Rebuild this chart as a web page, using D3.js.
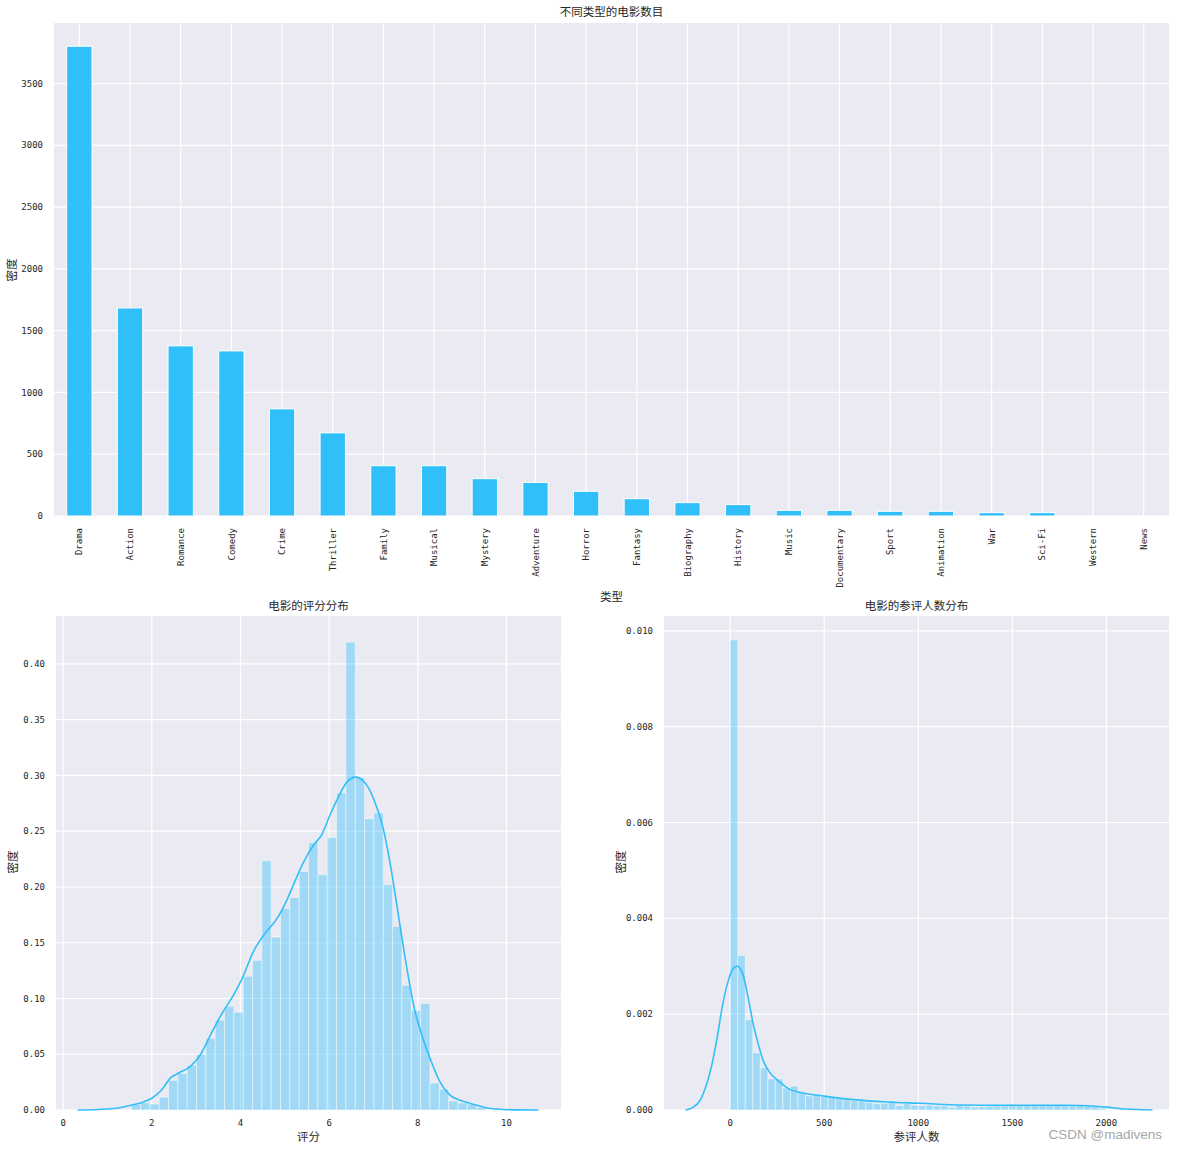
<!DOCTYPE html>
<html><head><meta charset="utf-8">
<script src="https://cdn.jsdelivr.net/npm/d3@7/dist/d3.min.js"></script>
<style>
body{margin:0;background:#fff;}
svg text{fill:#262626;}
</style></head>
<body><svg id="c" width="1177" height="1149"></svg>
<script>
// ---------- data ----------
const genres = ["Drama","Action","Romance","Comedy","Crime","Thriller","Family","Musical","Mystery","Adventure","Horror","Fantasy","Biography","History","Music","Documentary","Sport","Animation","War","Sci-Fi","Western","News"];
const genreCounts = [3802,1684,1377,1336,867,673,407,407,302,272,200,140,108,92,46,46,38,38,27,27,2,1];
const genreTicks = [0,500,1000,1500,2000,2500,3000,3500];

const ratingBinStart = 1.535, ratingBinWidth = 0.2106;
const ratingDensity = [0.005,0.0065,0.0054,0.0116,0.0266,0.0328,0.0402,0.0498,0.0644,0.0805,
  0.093,0.0877,0.1199,0.1342,0.2236,0.155,0.1807,0.1905,0.214,0.2397,
  0.211,0.2442,0.2844,0.4195,0.2979,0.2612,0.2665,0.2021,0.1646,0.1118,
  0.0894,0.0957,0.0242,0.0188,0.0081,0.0063,0.0054,0.0024];
const ratingKdeX = [0.33,0.8,1.2,1.5,1.8,2.0,2.2,2.43,2.62,2.88,3.1,3.33,3.59,3.85,4.04,4.3,4.53,4.83,5.05,5.25,5.43,5.65,5.83,6.02,6.2,6.4,6.6,6.85,7.03,7.22,7.37,7.55,7.74,7.92,8.11,8.3,8.49,8.71,9.01,9.31,9.54,9.91,10.3,10.72];
const ratingKdeY = [0,0.0005,0.0015,0.004,0.007,0.0105,0.017,0.029,0.0334,0.0394,0.0498,0.0677,0.087,0.1035,0.118,0.1428,0.157,0.172,0.1885,0.207,0.2227,0.2377,0.2466,0.2645,0.28,0.294,0.2985,0.2913,0.2764,0.2525,0.2227,0.178,0.1303,0.0915,0.0647,0.0438,0.026,0.014,0.008,0.0045,0.002,0.0005,0.0001,0];
const ratingXTicks = [0,2,4,6,8,10];
const ratingYTicks = [0,0.05,0.10,0.15,0.20,0.25,0.30,0.35,0.40];

const votesBinStart = 0, votesBinWidth = 40;
const votesDensity = [0.00981,0.003225,0.001885,0.001194,0.00088,0.00065,0.00065,0.00046,0.0005,0.000356,
  0.000293,0.00033,0.00028,0.000265,0.000237,0.000216,0.000195,0.000188,0.00016,0.000132,
  0.00014,0.000188,0.00009,0.000132,0.0001,0.00009,0.0001,0.000084,0.000084,0.000056,
  0.0001,0.00008,0.00006,0.00007,0.00008,0.00008,0.00009,0.00012,0.0001,0.0001,
  0.0001,0.0001,0.0001,0.0001,0.0001,0.00009,0.00009,0.00008,0.00007,0.00004];
const votesKdeX = [-238,-200,-160,-131,-100,-70,-40,-10,15,38,69,95,122,149,175,211,256,318,408,499,657,836,1014,1228,1400,1600,1800,1900,2000,2100,2245];
const votesKdeY = [0,0.00005,0.0002,0.00047,0.0009,0.0015,0.0022,0.0027,0.00295,0.0030,0.00281,0.00235,0.0018,0.00138,0.00103,0.00078,0.00061,0.00043,0.00034,0.00029,0.000216,0.000168,0.00014,0.000105,0.0001,0.0001,0.0001,0.00009,0.00006,0.00002,0];
const votesXTicks = [0,500,1000,1500,2000];
const votesYTicks = [0,0.002,0.004,0.006,0.008,0.010];

// ---------- style ----------
const BLUE = "#31bffa", BG = "#eaeaf2";
const TICK_FONT = "'DejaVu Sans Mono','Noto Sans CJK SC',monospace";
const CJK = "'Noto Sans CJK SC','Noto Sans',sans-serif";
const svg = d3.select("#c");

function frame(x0,x1,y0,y1){
  svg.append("rect").attr("x",x0).attr("y",y0).attr("width",x1-x0).attr("height",y1-y0).attr("fill",BG);
}
function yGrid(g,y,ticks,x0,x1,fmt){
  ticks.forEach(t=>{
    g.append("line").attr("x1",x0).attr("x2",x1).attr("y1",y(t)).attr("y2",y(t)).attr("stroke","#fff").attr("stroke-width",1.2);
    g.append("text").attr("x",x0-11).attr("y",y(t)).attr("dy","0.35em").attr("text-anchor","end")
      .style("font-family",TICK_FONT).style("font-size","9px").text(fmt(t));
  });
}
function xGrid(g,x,ticks,y0,y1,fmt){
  ticks.forEach(t=>{
    g.append("line").attr("y1",y0).attr("y2",y1).attr("x1",x(t)).attr("x2",x(t)).attr("stroke","#fff").attr("stroke-width",1.2);
    g.append("text").attr("x",x(t)).attr("y",y1+13).attr("dy","0.35em").attr("text-anchor","middle")
      .style("font-family",TICK_FONT).style("font-size","9px").text(fmt(t));
  });
}
function label(x,y,txt,rot){
  const t = svg.append("text").attr("text-anchor","middle").attr("dy","0.35em")
    .style("font-family",CJK).style("font-size","11.5px").text(txt);
  if(rot) t.attr("transform",`translate(${x},${y}) rotate(-90)`); else t.attr("x",x).attr("y",y);
}

// ---------- top: bar chart ----------
{
  const L=54,R=1169,T=23,B=516;
  frame(L,R,T,B);
  const x = d3.scaleBand().domain(genres).range([L,R]).paddingInner(0.5).paddingOuter(0.25);
  const y = d3.scaleLinear().domain([0,3990]).range([B,T]);
  const g = svg.append("g");
  yGrid(g,y,genreTicks,L,R,d3.format("d"));
  genres.forEach(c=>{
    const cx = x(c)+x.bandwidth()/2;
    g.append("line").attr("x1",cx).attr("x2",cx).attr("y1",T).attr("y2",B).attr("stroke","#fff").attr("stroke-width",1.2);
    g.append("text").attr("transform",`translate(${cx},${B+12}) rotate(-90)`).attr("text-anchor","end").attr("dy","0.35em")
      .style("font-family",TICK_FONT).style("font-size","9px").text(c);
  });
  g.selectAll("rect.bar").data(genres).join("rect").attr("class","bar")
    .attr("x",d=>x(d)).attr("width",x.bandwidth())
    .attr("y",(d,i)=>y(genreCounts[i])).attr("height",(d,i)=>B-y(genreCounts[i]))
    .attr("fill",BLUE).attr("stroke","#fff").attr("stroke-width",1);
  label((L+R)/2,12,"不同类型的电影数目");
  label(12,270,"密度",true);
  label((L+R)/2,597,"类型");
}

// ---------- histogram + kde helper ----------
function distPlot(L,R,T,B,xd,yd,start,width,dens,kx,ky,xt,yt,xf,yf,title,xl){
  frame(L,R,T,B);
  const x = d3.scaleLinear().domain(xd).range([L,R]);
  const y = d3.scaleLinear().domain(yd).range([B,T]);
  const g = svg.append("g");
  yGrid(g,y,yt,L,R,yf);
  xGrid(g,x,xt,T,B,xf);
  g.selectAll("rect.h").data(dens).join("rect").attr("class","h")
    .attr("x",(d,i)=>x(start+i*width)).attr("width",(d,i)=>x(start+(i+1)*width)-x(start+i*width))
    .attr("y",d=>y(d)).attr("height",d=>B-y(d))
    .attr("fill",BLUE).attr("fill-opacity",0.4).attr("stroke","#fff").attr("stroke-opacity",0.45).attr("stroke-width",1);
  const line = d3.line().x((d,i)=>x(kx[i])).y(d=>y(d)).curve(d3.curveMonotoneX);
  g.append("path").attr("d",line(ky)).attr("fill","none").attr("stroke",BLUE).attr("stroke-width",1.6);
  label((L+R)/2,606,title);
  label((L+R)/2,1137,xl);
  label(L-43,862,"密度",true);
}
distPlot(56,561,616,1110,[-0.16,11.23],[0,0.4430],ratingBinStart,ratingBinWidth,ratingDensity,ratingKdeX,ratingKdeY,
  ratingXTicks,ratingYTicks,d3.format("d"),d3.format(".2f"),"电影的评分分布","评分");
distPlot(664,1169,616,1110,[-352,2333],[0,0.01031],votesBinStart,votesBinWidth,votesDensity,votesKdeX,votesKdeY,
  votesXTicks,votesYTicks,d3.format("d"),d3.format(".3f"),"电影的参评人数分布","参评人数");

svg.append("text").attr("x",1162).attr("y",1134).attr("dy","0.35em").attr("text-anchor","end")
  .style("font-family","'Liberation Sans',Arial,sans-serif").style("font-size","13.5px")
  .style("fill","#a6a6a6").text("CSDN @madivens");
</script></body></html>
